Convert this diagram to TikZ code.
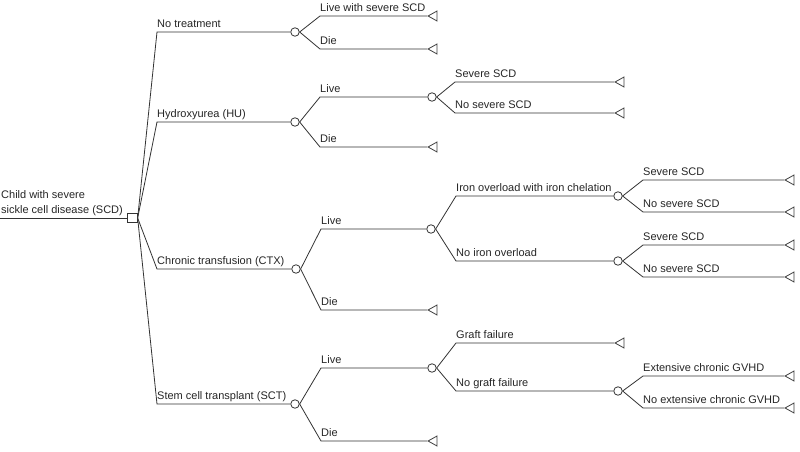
\documentclass[tikz,border=0pt]{standalone}
\usepackage{fontspec}
\setmainfont{Liberation Sans}
\usetikzlibrary{shapes.geometric}
\begin{document}
\begin{tikzpicture}[x=1pt,y=-1pt,
  edge/.style={draw=black!80, line width=0.8pt},
  chance/.style={circle, draw=black!80, line width=0.8pt, fill=white, minimum size=8.5pt, inner sep=0pt},
  decision/.style={rectangle, draw=black!80, line width=0.8pt, fill=white, minimum size=9.5pt, inner sep=0pt},
  terminal/.style={isosceles triangle, shape border rotate=180, isosceles triangle stretches,
    minimum width=10pt, minimum height=9pt, inner sep=0pt, draw=black!75, line width=0.8pt, anchor=apex},
  lbl/.style={anchor=base west, inner sep=0pt, font=\fontsize{11}{15}\selectfont, text=black!85}
]
\fill[white] (0,0) rectangle (800,452);
\useasboundingbox (0,0) rectangle (800,452);

% root
\node[decision] (root) at (132.5,218) {};
\coordinate (r0) at (0,218);
\draw[edge] (r0) -- (root);
\node[lbl] (rootlbl) at (1,213) {\begin{tabular}[b]{@{}l@{}}Child with severe\\sickle cell disease (SCD)\end{tabular}};

% No treatment
\coordinate (nt) at (157,32);
\node[chance] (cnt) at (295,32) {};
\draw[edge] (root.east) -- (nt) -- (cnt);
\node[lbl] (lnt) at (157,27.3) {No treatment};
\coordinate (nt1) at (320,16);
\node[terminal] (tnt1) at (427,16) {};
\draw[edge] (cnt.east) -- (nt1) -- (tnt1);
\node[lbl] (lnt1) at (320,11.3) {Live with severe SCD};
\coordinate (nt2) at (320,49);
\node[terminal] (tnt2) at (427,49) {};
\draw[edge] (cnt.east) -- (nt2) -- (tnt2);
\node[lbl] (lnt2) at (320,44.3) {Die};

% Hydroxyurea
\coordinate (hu) at (157,122);
\node[chance] (chu) at (295,122) {};
\draw[edge] (root.east) -- (hu) -- (chu);
\node[lbl] (lhu) at (157,117.3) {Hydroxyurea (HU)};
\coordinate (hu1) at (320,97);
\node[chance] (chu1) at (432,97) {};
\draw[edge] (chu.east) -- (hu1) -- (chu1);
\node[lbl] (lhu1) at (320,92.3) {Live};
\coordinate (hu11) at (455,82);
\node[terminal] (thu11) at (614,82) {};
\draw[edge] (chu1.east) -- (hu11) -- (thu11);
\node[lbl] (lhu11) at (455,77.3) {Severe SCD};
\coordinate (hu12) at (455,113);
\node[terminal] (thu12) at (614,113) {};
\draw[edge] (chu1.east) -- (hu12) -- (thu12);
\node[lbl] (lhu12) at (455,108.3) {No severe SCD};
\coordinate (hu2) at (320,147);
\node[terminal] (thu2) at (427,147) {};
\draw[edge] (chu.east) -- (hu2) -- (thu2);
\node[lbl] (lhu2) at (320,142.3) {Die};

% Chronic transfusion
\coordinate (ct) at (157,269);
\node[chance] (cct) at (296,269) {};
\draw[edge] (root.east) -- (ct) -- (cct);
\node[lbl] (lct) at (157,264.3) {Chronic transfusion (CTX)};
\coordinate (ct1) at (321,229);
\node[chance] (cct1) at (431,229) {};
\draw[edge] (cct.east) -- (ct1) -- (cct1);
\node[lbl] (lct1) at (321,224.3) {Live};
\coordinate (ct11) at (456,196);
\node[chance] (cct11) at (618,196) {};
\draw[edge] (cct1.east) -- (ct11) -- (cct11);
\node[lbl] (lct11) at (456,191.3) {Iron overload with iron chelation};
\coordinate (ct111) at (643,180);
\node[terminal] (tct111) at (784,180) {};
\draw[edge] (cct11.east) -- (ct111) -- (tct111);
\node[lbl] (lct111) at (643,175.3) {Severe SCD};
\coordinate (ct112) at (643,212);
\node[terminal] (tct112) at (784,212) {};
\draw[edge] (cct11.east) -- (ct112) -- (tct112);
\node[lbl] (lct112) at (643,207.3) {No severe SCD};
\coordinate (ct12) at (456,261);
\node[chance] (cct12) at (618,261) {};
\draw[edge] (cct1.east) -- (ct12) -- (cct12);
\node[lbl] (lct12) at (456,256.3) {No iron overload};
\coordinate (ct121) at (643,245);
\node[terminal] (tct121) at (784,245) {};
\draw[edge] (cct12.east) -- (ct121) -- (tct121);
\node[lbl] (lct121) at (643,240.3) {Severe SCD};
\coordinate (ct122) at (643,277);
\node[terminal] (tct122) at (784,277) {};
\draw[edge] (cct12.east) -- (ct122) -- (tct122);
\node[lbl] (lct122) at (643,272.3) {No severe SCD};
\coordinate (ct2) at (321,310);
\node[terminal] (tct2) at (427,310) {};
\draw[edge] (cct.east) -- (ct2) -- (tct2);
\node[lbl] (lct2) at (321,305.3) {Die};

% Stem cell transplant
\coordinate (st) at (157,404);
\node[chance] (cst) at (295,404) {};
\draw[edge] (root.east) -- (st) -- (cst);
\node[lbl] (lst) at (157,399.3) {Stem cell transplant (SCT)};
\coordinate (st1) at (321,368);
\node[chance] (cst1) at (432,368) {};
\draw[edge] (cst.east) -- (st1) -- (cst1);
\node[lbl] (lst1) at (321,363.3) {Live};
\coordinate (st11) at (456,343);
\node[terminal] (tst11) at (614,343) {};
\draw[edge] (cst1.east) -- (st11) -- (tst11);
\node[lbl] (lst11) at (456,338.3) {Graft failure};
\coordinate (st12) at (456,391);
\node[chance] (cst12) at (618,391) {};
\draw[edge] (cst1.east) -- (st12) -- (cst12);
\node[lbl] (lst12) at (456,386.3) {No graft failure};
\coordinate (st121) at (643,376);
\node[terminal] (tst121) at (784,376) {};
\draw[edge] (cst12.east) -- (st121) -- (tst121);
\node[lbl] (lst121) at (643,371.3) {Extensive chronic GVHD};
\coordinate (st122) at (643,408);
\node[terminal] (tst122) at (784,408) {};
\draw[edge] (cst12.east) -- (st122) -- (tst122);
\node[lbl] (lst122) at (643,403.3) {No extensive chronic GVHD};
\coordinate (st2) at (321,441);
\node[terminal] (tst2) at (427,441) {};
\draw[edge] (cst.east) -- (st2) -- (tst2);
\node[lbl] (lst2) at (321,436.3) {Die};
\end{tikzpicture}
\end{document}
